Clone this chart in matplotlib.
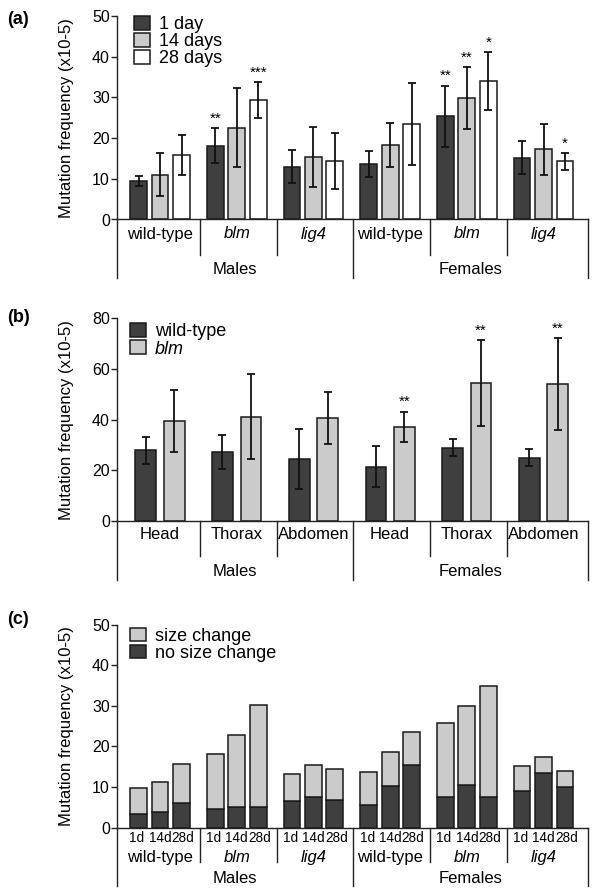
import matplotlib
matplotlib.use("Agg")
import matplotlib.pyplot as plt
import numpy as np

plt.rcParams['font.family'] = ['Liberation Sans', 'DejaVu Sans']

# ---------------- data ----------------
genotypes = ["wild-type", "blm", "lig4", "wild-type", "blm", "lig4"]
geno_italic = [False, True, True, False, True, True]
sexes = ["Males", "Females"]

# panel (a)
a_labels = ["1 day", "14 days", "28 days"]
a_day1 = [9.5, 18.1, 13.0, 13.6, 25.4, 15.2]
a_day14 = [11.0, 22.6, 15.4, 18.3, 29.8, 17.2]
a_day28 = [15.8, 29.3, 14.3, 23.5, 34.0, 14.3]
a_err1 = [1.3, 4.3, 4.1, 3.2, 7.5, 4.1]
a_err14 = [5.3, 9.6, 7.3, 5.3, 7.6, 6.3]
a_err28 = [4.9, 4.4, 6.9, 10.1, 7.1, 2.1]
a_stars1 = ["", "**", "", "", "**", ""]
a_stars14 = ["", "", "", "", "**", ""]
a_stars28 = ["", "***", "", "", "*", "*"]

# panel (b)
b_tissues = ["Head", "Thorax", "Abdomen", "Head", "Thorax", "Abdomen"]
b_labels = ["wild-type", "blm"]
b_wt = [27.9, 27.2, 24.6, 21.5, 29.0, 25.0]
b_blm = [39.4, 41.1, 40.6, 37.2, 54.5, 54.0]
b_err_wt = [5.3, 6.8, 11.8, 8.2, 3.3, 3.4]
b_err_blm = [12.3, 16.8, 10.3, 5.9, 16.9, 18.1]
b_stars_blm = ["", "", "", "**", "**", "**"]

# panel (c)
c_labels = ["size change", "no size change"]
c_days = ["1d", "14d", "28d"]
c_no_size = [3.3, 3.9, 6.0, 4.5, 5.1, 5.1, 6.6, 7.6, 6.9,
             5.6, 10.2, 15.3, 7.6, 10.5, 7.6, 9.1, 13.4, 10.1]
c_size = [6.5, 7.3, 9.7, 13.7, 17.6, 25.2, 6.5, 7.9, 7.6,
          8.0, 8.3, 8.3, 18.1, 19.5, 27.2, 6.0, 4.0, 3.9]

# ---------------- style ----------------
DARK = "#3f3f3f"
LIGHT = "#cbcbcb"
WHITE = "#ffffff"
EDGE = "#1a1a1a"
AXC = "#222222"
FS = 12
TFS = 11.5
LFS = 13

W, H = 600, 896
fig = plt.figure(figsize=(W / 100, H / 100), dpi=100)

left = 116.7 / W
width = (588 - 116.7) / W

def make_ax(top_px, bottom_px):
    ax = fig.add_axes([left, 1 - bottom_px / H, width, (bottom_px - top_px) / H])
    for s in ["top", "right"]:
        ax.spines[s].set_visible(False)
    for s in ["left", "bottom"]:
        ax.spines[s].set_color(AXC)
        ax.spines[s].set_linewidth(1.0)
    ax.set_xlim(-0.565, 5.58)
    ax.set_xticks([])
    ax.tick_params(axis="y", length=4.5, width=1.0, color=AXC, pad=0.5,
                   labelsize=TFS)
    ax.set_ylabel("Mutation frequency (x10-5)", fontsize=FS)
    ax.yaxis.set_label_coords(-0.09, 0.5)
    return ax

def brackets(ax, inner_px, outer_px, label_px, sex_px, group_labels, italic):
    hpx = ax.get_position().height * H
    tr = ax.get_xaxis_transform()
    f = lambda p: -p / hpx
    xl = ax.get_xlim()
    for xv in [xl[0], 2.52, xl[1]]:
        ax.plot([xv, xv], [0, f(outer_px)], transform=tr, color=AXC, lw=1.0,
                clip_on=False)
    for xv in [0.52, 1.52, 3.52, 4.52]:
        ax.plot([xv, xv], [0, f(inner_px)], transform=tr, color=AXC, lw=1.0,
                clip_on=False)
    for i, g in enumerate(group_labels):
        ax.text(i, f(label_px), g, transform=tr, ha="center", va="center",
                fontsize=FS, style="italic" if italic[i] else "normal")
    ax.text((xl[0] + 2.52) / 2, f(sex_px), sexes[0], transform=tr,
            ha="center", va="center", fontsize=FS)
    ax.text((2.52 + xl[1]) / 2, f(sex_px), sexes[1], transform=tr,
            ha="center", va="center", fontsize=FS)

x = np.arange(6)
bw3 = 0.22
off3 = 0.28
ekw = dict(ecolor="#111111", elinewidth=1.3, capsize=2.6, capthick=1.3)
legkw = dict(loc="upper left", frameon=False, fontsize=LFS, handlelength=0.9,
             handleheight=0.78, handletextpad=0.5, labelspacing=0.0,
             borderpad=0, borderaxespad=0)

# ---------------- panel (a) ----------------
axa = make_ax(16, 219.5)
axa.set_ylim(0, 50)
axa.set_yticks([0, 10, 20, 30, 40, 50])
series_a = [(a_day1, a_err1, a_stars1, DARK, -off3),
            (a_day14, a_err14, a_stars14, LIGHT, 0),
            (a_day28, a_err28, a_stars28, WHITE, off3)]
handles = []
for vals, errs, stars, col, o in series_a:
    b = axa.bar(x + o, vals, bw3, color=col, edgecolor=EDGE, linewidth=1.1,
                yerr=errs, error_kw=ekw, zorder=2)
    handles.append(b)
    for xi, v, e, s in zip(x + o, vals, errs, stars):
        if s:
            axa.text(xi, v + e + 0.6, s, ha="center", va="bottom", fontsize=11)
axa.legend(handles, a_labels, bbox_to_anchor=(0.037, 1.0), **legkw)
brackets(axa, 35.5, 58.5, 14.5, 50.5, genotypes, geno_italic)

# ---------------- panel (b) ----------------
axb = make_ax(318.3, 521)
axb.set_ylim(0, 80)
axb.set_yticks([0, 20, 40, 60, 80])
bw2 = 0.27
off2 = 0.186
hb = []
for vals, errs, col, o in [(b_wt, b_err_wt, DARK, -off2),
                           (b_blm, b_err_blm, LIGHT, off2)]:
    b = axb.bar(x + o, vals, bw2, color=col, edgecolor=EDGE, linewidth=1.1,
                yerr=errs, error_kw=ekw, zorder=2)
    hb.append(b)
for xi, v, e, s in zip(x + off2, b_blm, b_err_blm, b_stars_blm):
    if s:
        axb.text(xi, v + e + 1.0, s, ha="center", va="bottom", fontsize=11)
leg = axb.legend(hb, b_labels, bbox_to_anchor=(0.028, 0.975), **legkw)
leg.get_texts()[1].set_style("italic")
brackets(axb, 35, 59, 13.3, 50, b_tissues, [False] * 6)

# ---------------- panel (c) ----------------
axc = make_ax(624.7, 827.5)
axc.set_ylim(0, 50)
axc.set_yticks([0, 10, 20, 30, 40, 50])
xc = np.repeat(x, 3) + np.tile([-off3, 0, off3], 6)
b1 = axc.bar(xc, c_no_size, bw3, color=DARK, edgecolor=EDGE, linewidth=1.1,
             zorder=2)
b2 = axc.bar(xc, c_size, bw3, bottom=c_no_size, color=LIGHT, edgecolor=EDGE,
             linewidth=1.1, zorder=2)
axc.legend([b2, b1], c_labels, bbox_to_anchor=(0.028, 0.985), **legkw)
hpx = axc.get_position().height * H
trc = axc.get_xaxis_transform()
sub_dx = [-0.02, 0.0, 0.02]
for k, (xi, d) in enumerate(zip(xc, c_days * 6)):
    axc.text(xi + sub_dx[k % 3], -10.5 / hpx, d, transform=trc, ha="center",
             va="center", fontsize=9.8)
brackets(axc, 34.5, 58.5, 30, 50.8, genotypes, geno_italic)

# panel letters
for lbl, ypx in [("(a)", 20), ("(b)", 318), ("(c)", 619)]:
    fig.text(7 / W, 1 - ypx / H, lbl, fontsize=13, fontweight="bold",
             ha="left", va="center")

fig.savefig("out.png", dpi=100)
